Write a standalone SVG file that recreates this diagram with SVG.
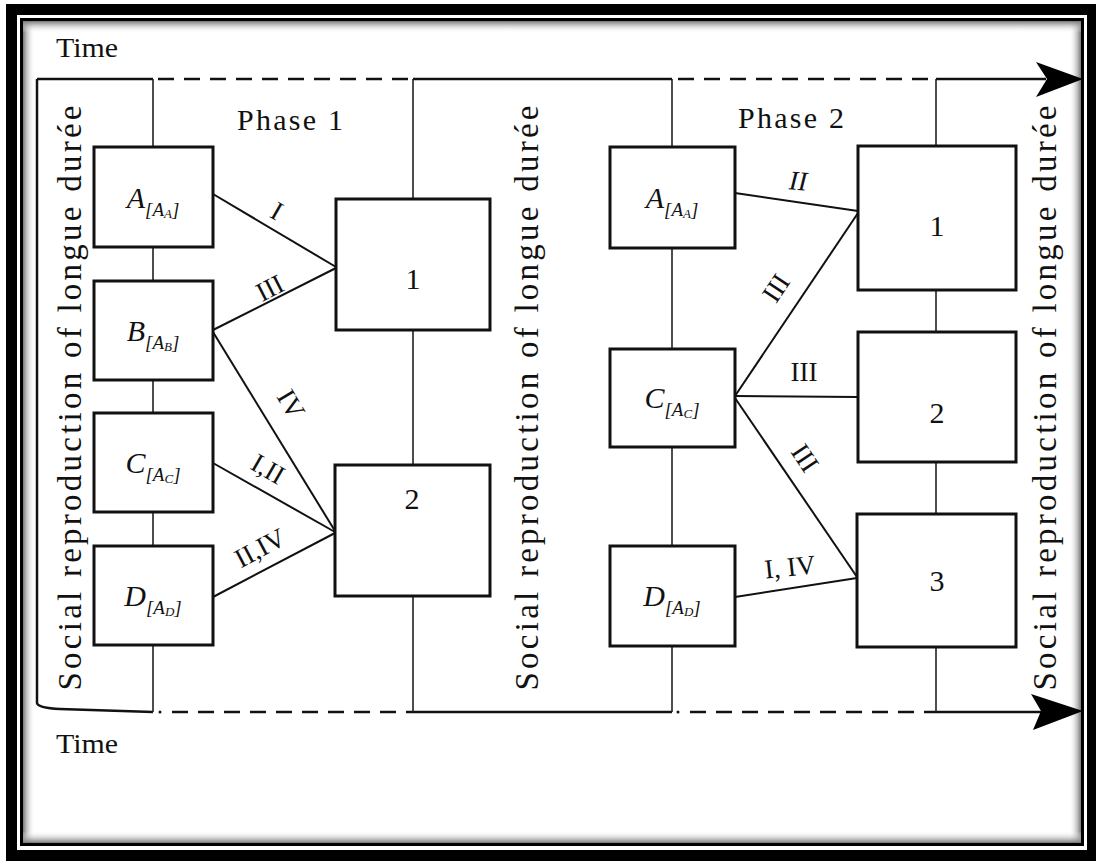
<svg xmlns="http://www.w3.org/2000/svg" width="1096" height="861" viewBox="0 0 1096 861">
<defs>
<linearGradient id="gL" x1="0" y1="0" x2="1" y2="0"><stop offset="0" stop-color="#777"/><stop offset="1" stop-color="#fff" stop-opacity="0"/></linearGradient>
<linearGradient id="gR" x1="1" y1="0" x2="0" y2="0"><stop offset="0" stop-color="#777"/><stop offset="1" stop-color="#fff" stop-opacity="0"/></linearGradient>
<linearGradient id="gT" x1="0" y1="0" x2="0" y2="1"><stop offset="0" stop-color="#777"/><stop offset="1" stop-color="#fff" stop-opacity="0"/></linearGradient>
<linearGradient id="gB" x1="0" y1="1" x2="0" y2="0"><stop offset="0" stop-color="#777"/><stop offset="1" stop-color="#fff" stop-opacity="0"/></linearGradient>
</defs>
<style>
.box{fill:#fff;stroke:#111;stroke-width:3}
.ln{stroke:#111;stroke-width:2;fill:none}
.vl{stroke:#222;stroke-width:1.6;fill:none}
.dash{stroke:#111;stroke-width:2.5;stroke-dasharray:16 10;fill:none}
.solid{stroke:#111;stroke-width:2.5;fill:none}
.t{font-family:"Liberation Serif","Times New Roman",serif;fill:#111}
.time{font-size:28px}
.phase{font-size:30px}
.num{font-size:30px;text-anchor:middle}
.nd{font-size:30px;font-style:italic;text-anchor:middle}
.sub{font-size:19px}
.sub2{font-size:13px}
.side{font-size:33px;text-anchor:middle}
.rl{font-size:27px;text-anchor:middle;dominant-baseline:central}
</style>
<rect x="0" y="0" width="1096" height="861" fill="#fff"/>
<g id="frame">
<path d="M6,4 H1096 V861 H6 Z M17,15 V850 H1087 V15 Z" fill="#000" fill-rule="evenodd"/>
<rect x="23" y="21" width="12" height="822" fill="url(#gL)"/>
<rect x="1069" y="21" width="12" height="822" fill="url(#gR)"/>
<rect x="23" y="21" width="1058" height="12" fill="url(#gT)"/>
<rect x="23" y="831" width="1058" height="12" fill="url(#gB)"/>
<rect x="21.5" y="19.5" width="1061" height="825" fill="none" stroke="#000" stroke-width="3"/>
</g>
<g id="time-labels">
<text class="t time" x="56" y="57" textLength="62" lengthAdjust="spacingAndGlyphs">Time</text>
<text class="t time" x="56" y="753" textLength="62" lengthAdjust="spacingAndGlyphs">Time</text>
</g>
<g id="axes">
<path class="solid" d="M37,79 H153"/>
<path class="dash" d="M158,79 H413"/>
<path class="solid" d="M413,79 H672"/>
<path class="dash" d="M678,79 H936"/>
<path class="solid" d="M936,79 H1046"/>
<path d="M1083,79 L1036,62 L1047,79 L1036,97 Z" fill="#000"/>
<path class="solid" d="M37,79 V703 Q38,708 60,709 L153,712"/>
<path class="dash" d="M172,712 H413"/>
<circle cx="160" cy="712" r="1.5" fill="#111"/>
<path class="solid" d="M413,712 H672"/>
<path class="dash" d="M690,712 H936"/>
<circle cx="678" cy="712" r="1.5" fill="#111"/>
<path class="solid" d="M936,712 H1042"/>
<path d="M1083,711 L1031,694 L1041,711 L1033,730 Z" fill="#000"/>
</g>
<g id="side-labels">
<text class="t side" transform="translate(81,398) rotate(-90)" textLength="585" lengthAdjust="spacing">Social reproduction of longue durée</text>
<text class="t side" transform="translate(538,398) rotate(-90)" textLength="585" lengthAdjust="spacing">Social reproduction of longue durée</text>
<text class="t side" transform="translate(1056,398) rotate(-90)" textLength="585" lengthAdjust="spacing">Social reproduction of longue durée</text>
</g>
<g id="phase-labels">
<text class="t phase" x="237" y="130" textLength="106" lengthAdjust="spacing">Phase 1</text>
<text class="t phase" x="738" y="128" textLength="106" lengthAdjust="spacing">Phase 2</text>
</g>
<g id="connectors">
<path class="vl" d="M153,79 V147 M153,247 V281 M153,380 V413 M153,512 V546 M153,645 V712"/>
<path class="vl" d="M413,79 V199 M413,330 V465 M413,596 V712"/>
<path class="vl" d="M672,79 V147 M672,248 V349 M672,447 V546 M672,646 V712"/>
<path class="vl" d="M936,79 V146 M936,290 V332 M936,462 V514 M936,647 V712"/>
<path class="ln" d="M213,194 L336,267"/>
<path class="ln" d="M213,330 L336,268"/>
<path class="ln" d="M213,332 L335,531"/>
<path class="ln" d="M213,463 L335,532"/>
<path class="ln" d="M213,597 L335,533"/>
<path class="ln" d="M735,193 L858,211"/>
<path class="ln" d="M735,396 L858,213"/>
<path class="ln" d="M735,396 L858,397"/>
<path class="ln" d="M735,398 L857,577"/>
<path class="ln" d="M735,597 L857,578"/>
<text class="t rl" transform="translate(277,211) rotate(30)">I</text>
<text class="t rl" transform="translate(270,288) rotate(-27)">III</text>
<text class="t rl" transform="translate(291,404) rotate(59)">IV</text>
<text class="t rl" transform="translate(268,469) rotate(30)">I,II</text>
<text class="t rl" transform="translate(260,548) rotate(-28)">II,IV</text>
<text class="t rl" transform="translate(798,181) rotate(4)" font-style="italic">II</text>
<text class="t rl" transform="translate(776,288) rotate(-56)">III</text>
<text class="t rl" transform="translate(804,372)">III</text>
<text class="t rl" transform="translate(805,458) rotate(56)">III</text>
<text class="t rl" transform="translate(790,567) rotate(-6)">I, IV</text>
</g>
<g id="p1-A"><rect class="box" x="94" y="147" width="119" height="100"/><text class="t nd" x="153" y="208">A<tspan class="sub" dy="8">[A</tspan><tspan class="sub2" dy="2">A</tspan><tspan class="sub" dy="-2">]</tspan></text></g>
<g id="p1-B"><rect class="box" x="94" y="281" width="119" height="99"/><text class="t nd" x="153" y="341">B<tspan class="sub" dy="8">[A</tspan><tspan class="sub2" dy="2">B</tspan><tspan class="sub" dy="-2">]</tspan></text></g>
<g id="p1-C"><rect class="box" x="94" y="413" width="119" height="99"/><text class="t nd" x="153" y="473">C<tspan class="sub" dy="8">[A</tspan><tspan class="sub2" dy="2">C</tspan><tspan class="sub" dy="-2">]</tspan></text></g>
<g id="p1-D"><rect class="box" x="94" y="546" width="119" height="99"/><text class="t nd" x="153" y="606">D<tspan class="sub" dy="8">[A</tspan><tspan class="sub2" dy="2">D</tspan><tspan class="sub" dy="-2">]</tspan></text></g>
<g id="p1-1"><rect class="box" x="336" y="199" width="154" height="131"/><text class="t num" x="413" y="289">1</text></g>
<g id="p1-2"><rect class="box" x="335" y="465" width="155" height="131"/><text class="t num" x="412" y="509">2</text></g>
<g id="p2-A"><rect class="box" x="610" y="147" width="125" height="101"/><text class="t nd" x="672" y="208">A<tspan class="sub" dy="8">[A</tspan><tspan class="sub2" dy="2">A</tspan><tspan class="sub" dy="-2">]</tspan></text></g>
<g id="p2-C"><rect class="box" x="610" y="349" width="125" height="98"/><text class="t nd" x="672" y="408">C<tspan class="sub" dy="8">[A</tspan><tspan class="sub2" dy="2">C</tspan><tspan class="sub" dy="-2">]</tspan></text></g>
<g id="p2-D"><rect class="box" x="610" y="546" width="125" height="100"/><text class="t nd" x="672" y="606">D<tspan class="sub" dy="8">[A</tspan><tspan class="sub2" dy="2">D</tspan><tspan class="sub" dy="-2">]</tspan></text></g>
<g id="p2-1"><rect class="box" x="858" y="146" width="158" height="144"/><text class="t num" x="937" y="236">1</text></g>
<g id="p2-2"><rect class="box" x="858" y="332" width="158" height="130"/><text class="t num" x="937" y="423">2</text></g>
<g id="p2-3"><rect class="box" x="857" y="514" width="159" height="133"/><text class="t num" x="937" y="591">3</text></g>
</svg>
